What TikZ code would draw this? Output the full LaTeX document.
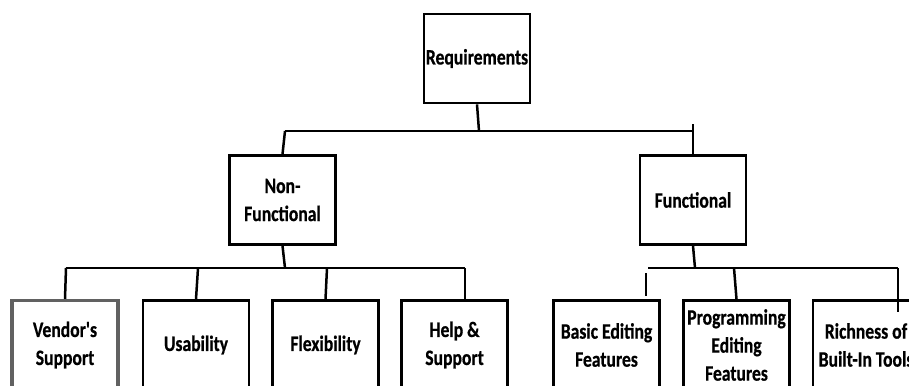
\documentclass[tikz,border=0pt]{standalone}
\usepackage{fontspec}
\setmainfont[FakeStretch=0.8,FakeBold=0.6,Ligatures=TeXOff]{Carlito}
\usetikzlibrary{calc}
\begin{document}
\begin{tikzpicture}[x=1pt,y=-1pt,
  box/.style={draw=black,line width=2.8pt,fill=white,align=center,
    minimum width=106pt,minimum height=89pt,inner sep=0pt,
    font=\fontsize{22}{28}\selectfont\bfseries},
  greybox/.style={box,draw=black!62,line width=3.4pt},
  wire/.style={draw=black,line width=2.5pt}]
\useasboundingbox (0,0) rectangle (909,385);
\clip (0,0) rectangle (909,385);

% top level
\node[box] (req) at (477,58.5) {Requirements};

% second level
\node[box] (nf) at (282.5,200) {Non-\\Functional};
\node[box] (fn) at (693,200) {Functional};

% leaves
\node[greybox] (vs) at (65,345) {Vendor's\\Support};
\node[box] (us) at (196,345) {Usability};
\node[box] (fl) at (325.5,345) {Flexibility};
\node[box] (hs) at (454.5,345) {Help \&\\Support};
\node[box] (be) at (606.5,345) {Basic Editing\\Features};
\node[box] (pe) at (736.5,345) {Programming\\Editing\\Features};
\node[box] (rt) at (866,345) {Richness of\\Built-In Tools};

% bus under Requirements
\coordinate (b0) at (479,131);
\coordinate (tl) at (285,131);
\coordinate (tr) at (693,131);
\coordinate (tt) at (693,124);
\draw[wire] (req.south) -- (b0);
\draw[wire] (tl) -- (tr);
\draw[wire] (tl) -- (nf.north);
\draw[wire] (tt) -- (fn.north);

% bus under Non-Functional
\coordinate (nb) at (285,268);
\coordinate (n1) at (66,268);
\coordinate (n2) at (198,268);
\coordinate (n3) at (327,268);
\coordinate (n4) at (465,268);
\draw[wire] (nf.south) -- (nb);
\draw[wire] (n1) -- (n4);
\draw[wire] (n1) -- (vs.north);
\draw[wire] (n2) -- (us.north);
\draw[wire] (n3) -- (fl.north);
\draw[wire] (n4) -- ($(n4 |- hs.north)+(0,3)$);

% bus under Functional
\coordinate (fb) at (695,268);
\coordinate (f0) at (648,268);
\coordinate (f1) at (646,273);
\coordinate (f2) at (734,268);
\coordinate (f3) at (898,268);
\draw[wire] (fn.south) -- (fb);
\draw[wire] (f0) -- (f3);
\draw[wire,shorten >=3pt] (f1) -- (f1 |- be.north);
\draw[wire] (f2) -- (pe.north);
\draw[wire] (f3) -- ($(f3 |- rt.north)+(0,13)$);
\end{tikzpicture}
\end{document}
